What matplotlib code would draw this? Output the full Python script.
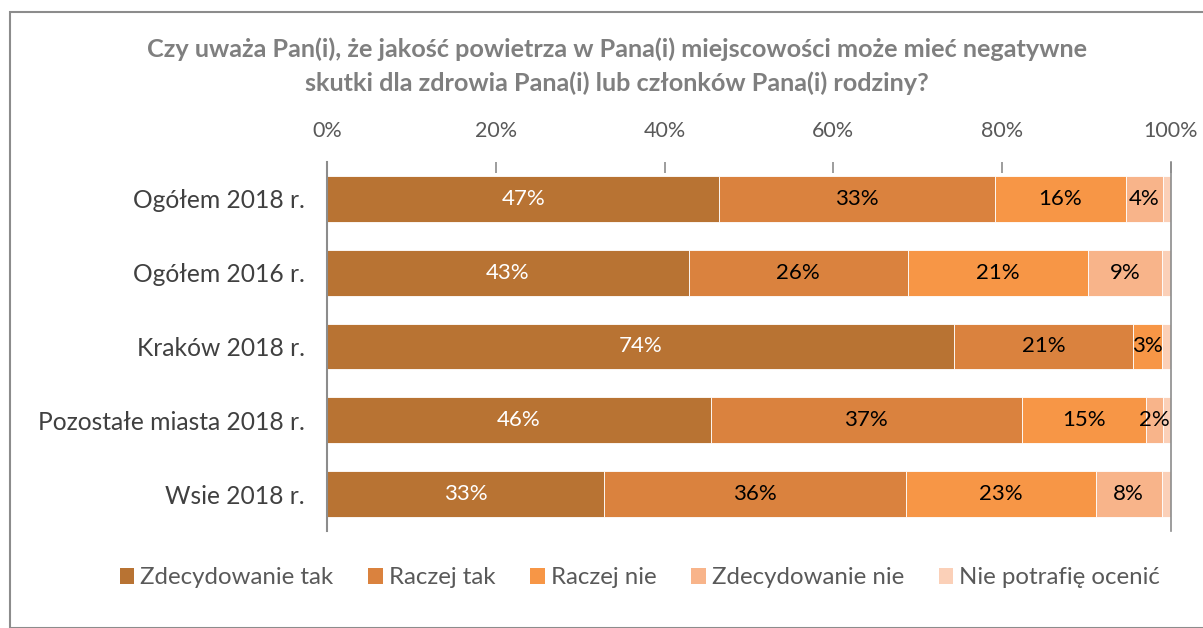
import matplotlib
matplotlib.use("Agg")
import matplotlib.pyplot as plt
from matplotlib.patches import Rectangle, Patch

plt.rcParams['font.family'] = ['Lato', 'DejaVu Sans']

categories = ["Ogółem 2018 r.", "Ogółem 2016 r.", "Kraków 2018 r.",
              "Pozostałe miasta 2018 r.", "Wsie 2018 r."]
series_names = ["Zdecydowanie tak", "Raczej tak", "Raczej nie",
                "Zdecydowanie nie", "Nie potrafię ocenić"]
zdecydowanie_tak = [46.5, 42.9, 74.3, 45.5, 32.8]
raczej_tak = [32.6, 25.9, 21.2, 36.8, 35.8]
raczej_nie = [15.6, 21.4, 3.4, 14.7, 22.5]
zdecydowanie_nie = [4.3, 8.7, 0.0, 2.1, 7.8]
nie_potrafie = [1.0, 1.1, 1.1, 0.9, 1.1]
labels = [
    ["47%", "43%", "74%", "46%", "33%"],
    ["33%", "26%", "21%", "37%", "36%"],
    ["16%", "21%", "3%", "15%", "23%"],
    ["4%", "9%", "", "2%", "8%"],
    ["", "", "", "", ""],
]
xticks = [0, 20, 40, 60, 80, 100]
title = ("Czy uważa Pan(i), że jakość powietrza w Pana(i) miejscowości może mieć negatywne\n"
         "skutki dla zdrowia Pana(i) lub członków Pana(i) rodziny?")

colors = ['#B87333', '#DA823E', '#F79646', '#F8B48A', '#FBD0B8']
text_colors = ['white', 'black', 'black', 'black', 'black']
series = [zdecydowanie_tak, raczej_tak, raczej_nie, zdecydowanie_nie, nie_potrafie]

fig = plt.figure(figsize=(12.03, 6.28), dpi=100)
fig.patches.append(Rectangle((10/1203, 0), 1.1, 1 - 12/628, transform=fig.transFigure,
                             fill=False, edgecolor='#8C8C8C', linewidth=1.5, zorder=0))

ax = fig.add_axes([327/1203, 1 - 531/628, (1171-327)/1203, (531-162)/628])
y = list(range(len(categories)))
left = [0.0] * len(categories)
for s, vals in enumerate(series):
    ax.barh(y, vals, left=left, height=0.62, color=colors[s],
            edgecolor='white', linewidth=0.6, label=series_names[s])
    for i, v in enumerate(vals):
        if labels[s][i]:
            ax.text(left[i] + v / 2, i, labels[s][i], ha='center', va='center',
                    color=text_colors[s], fontsize=16)
    left = [l + v for l, v in zip(left, vals)]

ax.set_xlim(0, 100)
ax.set_ylim(len(categories) - 0.5, -0.5)
ax.set_yticks(y)
ax.set_yticklabels(categories, fontsize=17.7, color='#404040')
ax.tick_params(axis='y', length=0, pad=16)
ax.xaxis.tick_top()
ax.set_xticks(xticks)
ax.set_xticklabels([f"{t}%" for t in xticks], fontsize=15.5, color='#595959')
ax.tick_params(axis='x', direction='in', length=8, color='#8C8C8C', width=1.2, pad=15)
for sp in ['top', 'bottom']:
    ax.spines[sp].set_visible(False)
for sp in ['left', 'right']:
    ax.spines[sp].set_color('#8C8C8C')
    ax.spines[sp].set_linewidth(1.5)
ax.spines['right'].set_linewidth(1.2)

fig.text(617/1203, 1 - 66/628, title, ha='center', va='center', fontsize=18.2,
         fontweight='bold', color='#7F7F7F', linespacing=1.55)

handles = [Patch(facecolor=c, edgecolor='none') for c in colors]
fig.legend(handles, series_names, loc='center', bbox_to_anchor=(640/1203, 1 - 578/628),
           ncol=5, frameon=False, fontsize=17.3, handlelength=0.6, handleheight=0.6,
           handletextpad=0.25, columnspacing=1.45, labelcolor='#595959')

fig.savefig("out.png", dpi=100)
